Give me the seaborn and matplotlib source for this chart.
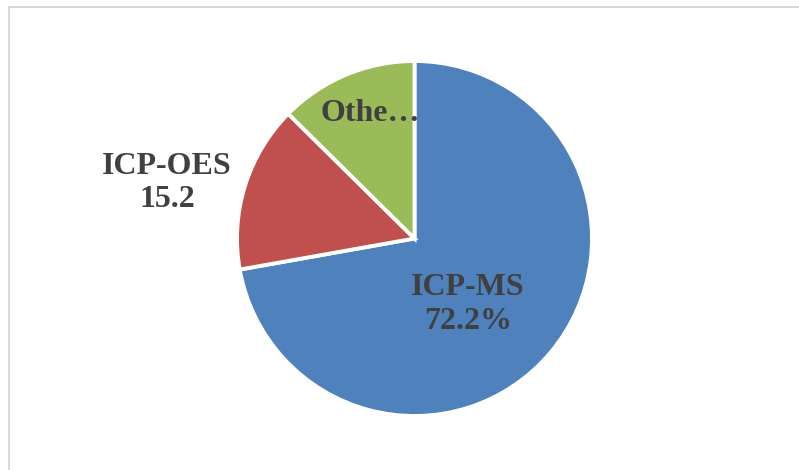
import matplotlib
matplotlib.use("Agg")
import matplotlib.pyplot as plt
from matplotlib.patches import Rectangle
import seaborn as sns

categories = ["ICP-MS", "ICP-OES", "Others"]
values = [72.2, 15.2, 12.6]
label_texts = ["ICP-MS\n72.2%", "ICP-OES\n15.2", "Othe\u2026"]
colors = ["#4F81BD", "#C0504D", "#9BBB59"]

sns.set_theme(style="white")
plt.rcParams["font.family"] = ["Liberation Serif", "DejaVu Serif"]

W, H = 799, 470
fig = plt.figure(figsize=(W / 100, H / 100), dpi=100)
fig.patch.set_facecolor("white")

cx, cy, r = 414.5, 238.5, 177.5
half = 200
ax = fig.add_axes([(cx - half) / W, (H - cy - half) / H, 2 * half / W, 2 * half / H])
ax.set_aspect("equal")
ax.axis("off")

wedges, _ = ax.pie(values, colors=colors, startangle=90, counterclock=False,
                   radius=1.0, wedgeprops=dict(edgecolor="white", linewidth=2.8))
ax.set_xlim(-half / r, half / r)
ax.set_ylim(-half / r, half / r)

label_pos = [(0.30, -0.37), (-1.394, 0.313), (-0.25, 0.707)]
for txt, (x, y) in zip(label_texts, label_pos):
    ax.text(x, y, txt, ha="center", va="center", fontsize=23, fontweight="bold",
            color="#404040", linespacing=1.22, clip_on=False)

fig.add_artist(Rectangle((8.5 / W, -0.2), 2, 1.2 - 6.5 / H, transform=fig.transFigure,
                         fill=False, edgecolor="#d9d9d9", linewidth=1.5))

fig.savefig("out.png", dpi=100)
